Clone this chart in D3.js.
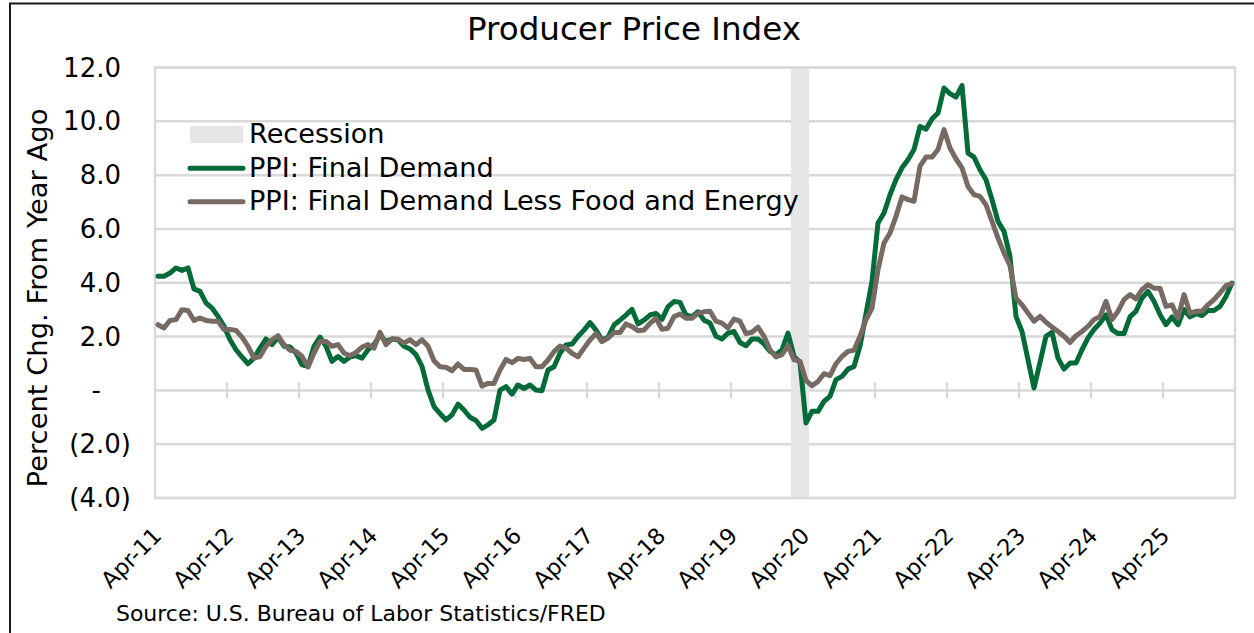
<!DOCTYPE html>
<html><head><meta charset="utf-8">
<script src="https://cdn.jsdelivr.net/npm/d3@7"></script>
<style>
body{margin:0;background:#fff}
svg{display:block}
text{font-family:"DejaVu Sans",Verdana,sans-serif;fill:#000}
</style>
</head><body>
<svg id="chart" width="1254" height="633"></svg>
<script>
// ---------- data ----------
const firstMonth = new Date(2011, 3, 1);   // Apr 2011
const endMonth   = new Date(2026, 3, 1);   // exclusive
const tickLabels = ["Apr-11","Apr-12","Apr-13","Apr-14","Apr-15","Apr-16","Apr-17","Apr-18",
                    "Apr-19","Apr-20","Apr-21","Apr-22","Apr-23","Apr-24","Apr-25"];
const yTicks = [-4, -2, 0, 2, 4, 6, 8, 10, 12];
const recessionMonths = ["Feb-20", "Mar-20", "Apr-20"];
const seriesNames = ["Recession", "PPI: Final Demand", "PPI: Final Demand Less Food and Energy"];

const finalDemand = [
  4.24, 4.24, 4.36, 4.55, 4.46, 4.55, 3.77, 3.68, 3.25, 3.06,
  2.75, 2.38, 1.88, 1.51, 1.24, 0.99, 1.20, 1.57, 1.91, 1.70,
  1.98, 1.64, 1.61, 1.39, 0.95, 0.89, 1.64, 1.98, 1.64, 1.08,
  1.26, 1.08, 1.24, 1.29, 1.20, 1.51, 1.70, 2.06, 1.82, 1.91,
  1.88, 1.64, 1.54, 1.33, 0.89, 0.02, -0.60,
  -0.86, -1.10, -0.91, -0.51, -0.73, -1.00, -1.12, -1.41, -1.28, -1.10,
  0.01, 0.14, -0.14, 0.20, 0.07, 0.20, 0.01, -0.01, 0.76, 0.88,
  1.38, 1.69, 1.72, 2.00, 2.24, 2.52, 2.24, 1.87, 1.97, 2.43,
  2.61, 2.80, 3.01, 2.47, 2.61, 2.80, 2.86, 2.64, 3.11, 3.30,
  3.27, 2.80, 2.74, 2.92, 2.61,
  2.50, 2.01, 1.91, 2.13, 2.19, 1.78, 1.66, 1.91, 1.91, 1.73,
  1.45, 1.33, 1.51, 2.13, 1.26, 1.04, -1.21, -0.78, -0.78, -0.41,
  -0.22, 0.40, 0.52, 0.79, 0.89, 1.65, 2.85, 4.05, 6.22, 6.59,
  7.27, 7.83, 8.27, 8.57, 8.95, 9.81, 9.71, 10.09, 10.31, 11.24,
  11.03, 10.90, 11.33, 8.82, 8.67,
  8.20, 7.83, 7.09, 6.28, 5.91, 4.98, 2.75, 2.19, 1.14, 0.09,
  1.04, 2.01, 2.16, 1.20, 0.79, 1.02, 1.02, 1.51, 1.95, 2.26,
  2.50, 2.81, 2.26, 2.11, 2.11, 2.73, 2.94, 3.43, 3.68, 3.31,
  2.81, 2.44, 2.73, 2.44, 3.00, 2.73, 2.85, 2.78, 2.97, 2.97,
  3.12, 3.49, 3.99
];

const lessFoodEnergy = [
  2.44, 2.32, 2.60, 2.63, 3.00, 2.97, 2.60, 2.69, 2.60, 2.57,
  2.57, 2.26, 2.26, 2.23, 1.98, 1.64, 1.20, 1.26, 1.64, 1.88,
  2.03, 1.70, 1.49, 1.45, 1.26, 0.87, 1.39, 1.82, 1.82, 1.64,
  1.70, 1.39, 1.29, 1.41, 1.61, 1.70, 1.57, 2.16, 1.70, 1.91,
  1.91, 1.76, 1.88, 1.70, 1.88, 1.64, 1.10,
  0.88, 0.86, 0.73, 0.98, 0.78, 0.78, 0.76, 0.16, 0.26, 0.26,
  0.76, 1.15, 1.03, 1.19, 1.15, 1.19, 0.88, 0.88, 1.13, 1.44,
  1.65, 1.57, 1.38, 1.25, 1.57, 1.87, 2.12, 1.81, 1.94, 2.15,
  2.15, 2.47, 2.37, 2.22, 2.24, 2.49, 2.68, 2.27, 2.31, 2.74,
  2.84, 2.68, 2.68, 2.86, 2.92,
  2.94, 2.57, 2.50, 2.32, 2.65, 2.57, 2.11, 2.16, 2.35, 2.01,
  1.51, 1.24, 1.33, 1.66, 1.14, 1.08, 0.37, 0.17, 0.33, 0.62,
  0.55, 0.99, 1.26, 1.45, 1.49, 2.01, 2.63, 3.06, 4.49, 5.48,
  5.85, 6.47, 7.19, 7.09, 7.03, 8.33, 8.67, 8.67, 8.95, 9.69,
  9.01, 8.60, 8.27, 7.58, 7.27,
  7.21, 6.90, 6.28, 5.66, 5.11, 4.63, 3.43, 3.18, 2.87, 2.57,
  2.75, 2.53, 2.35, 2.19, 2.01, 1.78, 2.03, 2.19, 2.38, 2.63,
  2.75, 3.31, 2.63, 2.94, 3.37, 3.56, 3.40, 3.74, 3.93, 3.80,
  3.80, 3.12, 3.18, 2.69, 3.56, 2.87, 2.94, 2.94, 3.18, 3.37,
  3.62, 3.89, 3.97
];

// ---------- setup ----------
const fmt = d3.timeFormat("%b-%y");
const months = d3.timeMonths(firstMonth, endMonth).map(fmt);
const svg = d3.select("#chart");
const plot = {left: 155, right: 1235, top: 67.5, bottom: 498};
const gridColor = "#d9d9d9";
const greenColor = "#036b38";
const brownColor = "#766a62";
const recColor = "#e6e6e6";
const lineW = 5;

const x = d3.scaleBand().domain(months).range([plot.left, plot.right]).padding(0);
const y = d3.scaleLinear().domain([-4, 12]).range([plot.bottom, plot.top]);
const xc = m => x(m) + x.bandwidth() / 2;

// outer frame
svg.append("rect").attr("x", 10).attr("y", 3.5).attr("width", 1400).attr("height", 1000)
  .attr("fill", "none").attr("stroke", "#1a1a1a").attr("stroke-width", 2);

// gridlines
svg.append("g").selectAll("line").data(yTicks).join("line")
  .attr("x1", plot.left).attr("x2", plot.right)
  .attr("y1", d => y(d)).attr("y2", d => y(d))
  .attr("stroke", gridColor).attr("stroke-width", 2.5);

// recession band
svg.append("rect")
  .attr("x", x(recessionMonths[0]))
  .attr("width", x(recessionMonths[recessionMonths.length - 1]) + x.bandwidth() - x(recessionMonths[0]))
  .attr("y", plot.top).attr("height", plot.bottom - plot.top)
  .attr("fill", recColor);

// plot border
svg.append("rect").attr("x", plot.left).attr("y", plot.top)
  .attr("width", plot.right - plot.left).attr("height", plot.bottom - plot.top)
  .attr("fill", "none").attr("stroke", gridColor).attr("stroke-width", 2.5);

// zero axis tick marks (between categories, every 12 months)
const tickEdges = tickLabels.slice(1).map(m => x(m));
svg.append("g").selectAll("line").data(tickEdges).join("line")
  .attr("x1", d => d).attr("x2", d => d)
  .attr("y1", y(0) - 8).attr("y2", y(0) + 8)
  .attr("stroke", gridColor).attr("stroke-width", 2.5);

// lines
const line = d3.line().x((d, i) => xc(months[i])).y(d => y(d)).curve(d3.curveLinear);
svg.append("path").datum(finalDemand).attr("d", line)
  .attr("fill", "none").attr("stroke", greenColor).attr("stroke-width", lineW)
  .attr("stroke-linejoin", "round").attr("stroke-linecap", "round");
svg.append("path").datum(lessFoodEnergy).attr("d", line)
  .attr("fill", "none").attr("stroke", brownColor).attr("stroke-width", lineW)
  .attr("stroke-linejoin", "round").attr("stroke-linecap", "round");

// y tick labels (accounting style)
const yLab = svg.append("g").attr("font-size", 26);
yTicks.forEach(t => {
  const txt = t === 0 ? "-" : (t < 0 ? "(" + Math.abs(t).toFixed(1) + ")" : t.toFixed(1));
  const ax = t === 0 ? 101 : (t < 0 ? 131 : 121);
  yLab.append("text").attr("x", ax).attr("y", y(t)).attr("dy", "0.35em")
    .attr("text-anchor", "end").text(txt);
});

// x tick labels
svg.append("g").selectAll("text").data(tickLabels).join("text")
  .attr("transform", d => `translate(${xc(d) + 5},537) rotate(-45)`)
  .attr("text-anchor", "end").attr("font-size", 22.5).text(d => d);

function fit(sel, target) {
  const w = sel.node().getComputedTextLength();
  const fs = parseFloat(sel.attr("font-size"));
  sel.attr("font-size", fs * target / w);
  return fs * target / w;
}

// title
const title = svg.append("text").attr("x", 634).attr("y", 40).attr("text-anchor", "middle")
  .attr("font-size", 30).text("Producer Price Index");
fit(title, 334);

// y-axis title
const yTitle = svg.append("text").attr("transform", "translate(47,298) rotate(-90)")
  .attr("text-anchor", "middle").attr("font-size", 26).text("Percent Chg. From Year Ago");
fit(yTitle, 379);

// source
const src = svg.append("text").attr("x", 116).attr("y", 621).attr("font-size", 22)
  .text("Source: U.S. Bureau of Labor Statistics/FRED");
fit(src, 490);

// legend
const lg = svg.append("g");
lg.append("rect").attr("x", 190).attr("y", 126).attr("width", 53).attr("height", 17).attr("fill", recColor);
lg.append("line").attr("x1", 190).attr("x2", 243).attr("y1", 168.2).attr("y2", 168.2)
  .attr("stroke", greenColor).attr("stroke-width", lineW).attr("stroke-linecap", "round");
lg.append("line").attr("x1", 190).attr("x2", 243).attr("y1", 201.7).attr("y2", 201.7)
  .attr("stroke", brownColor).attr("stroke-width", lineW).attr("stroke-linecap", "round");
const lt = [143.3, 176.8, 210.3].map((by, i) =>
  lg.append("text").attr("x", 249).attr("y", by).attr("font-size", 25).text(seriesNames[i]));
const lfs = fit(lt[2], 550);
lt.forEach(t => t.attr("font-size", lfs));
</script>
</body></html>
